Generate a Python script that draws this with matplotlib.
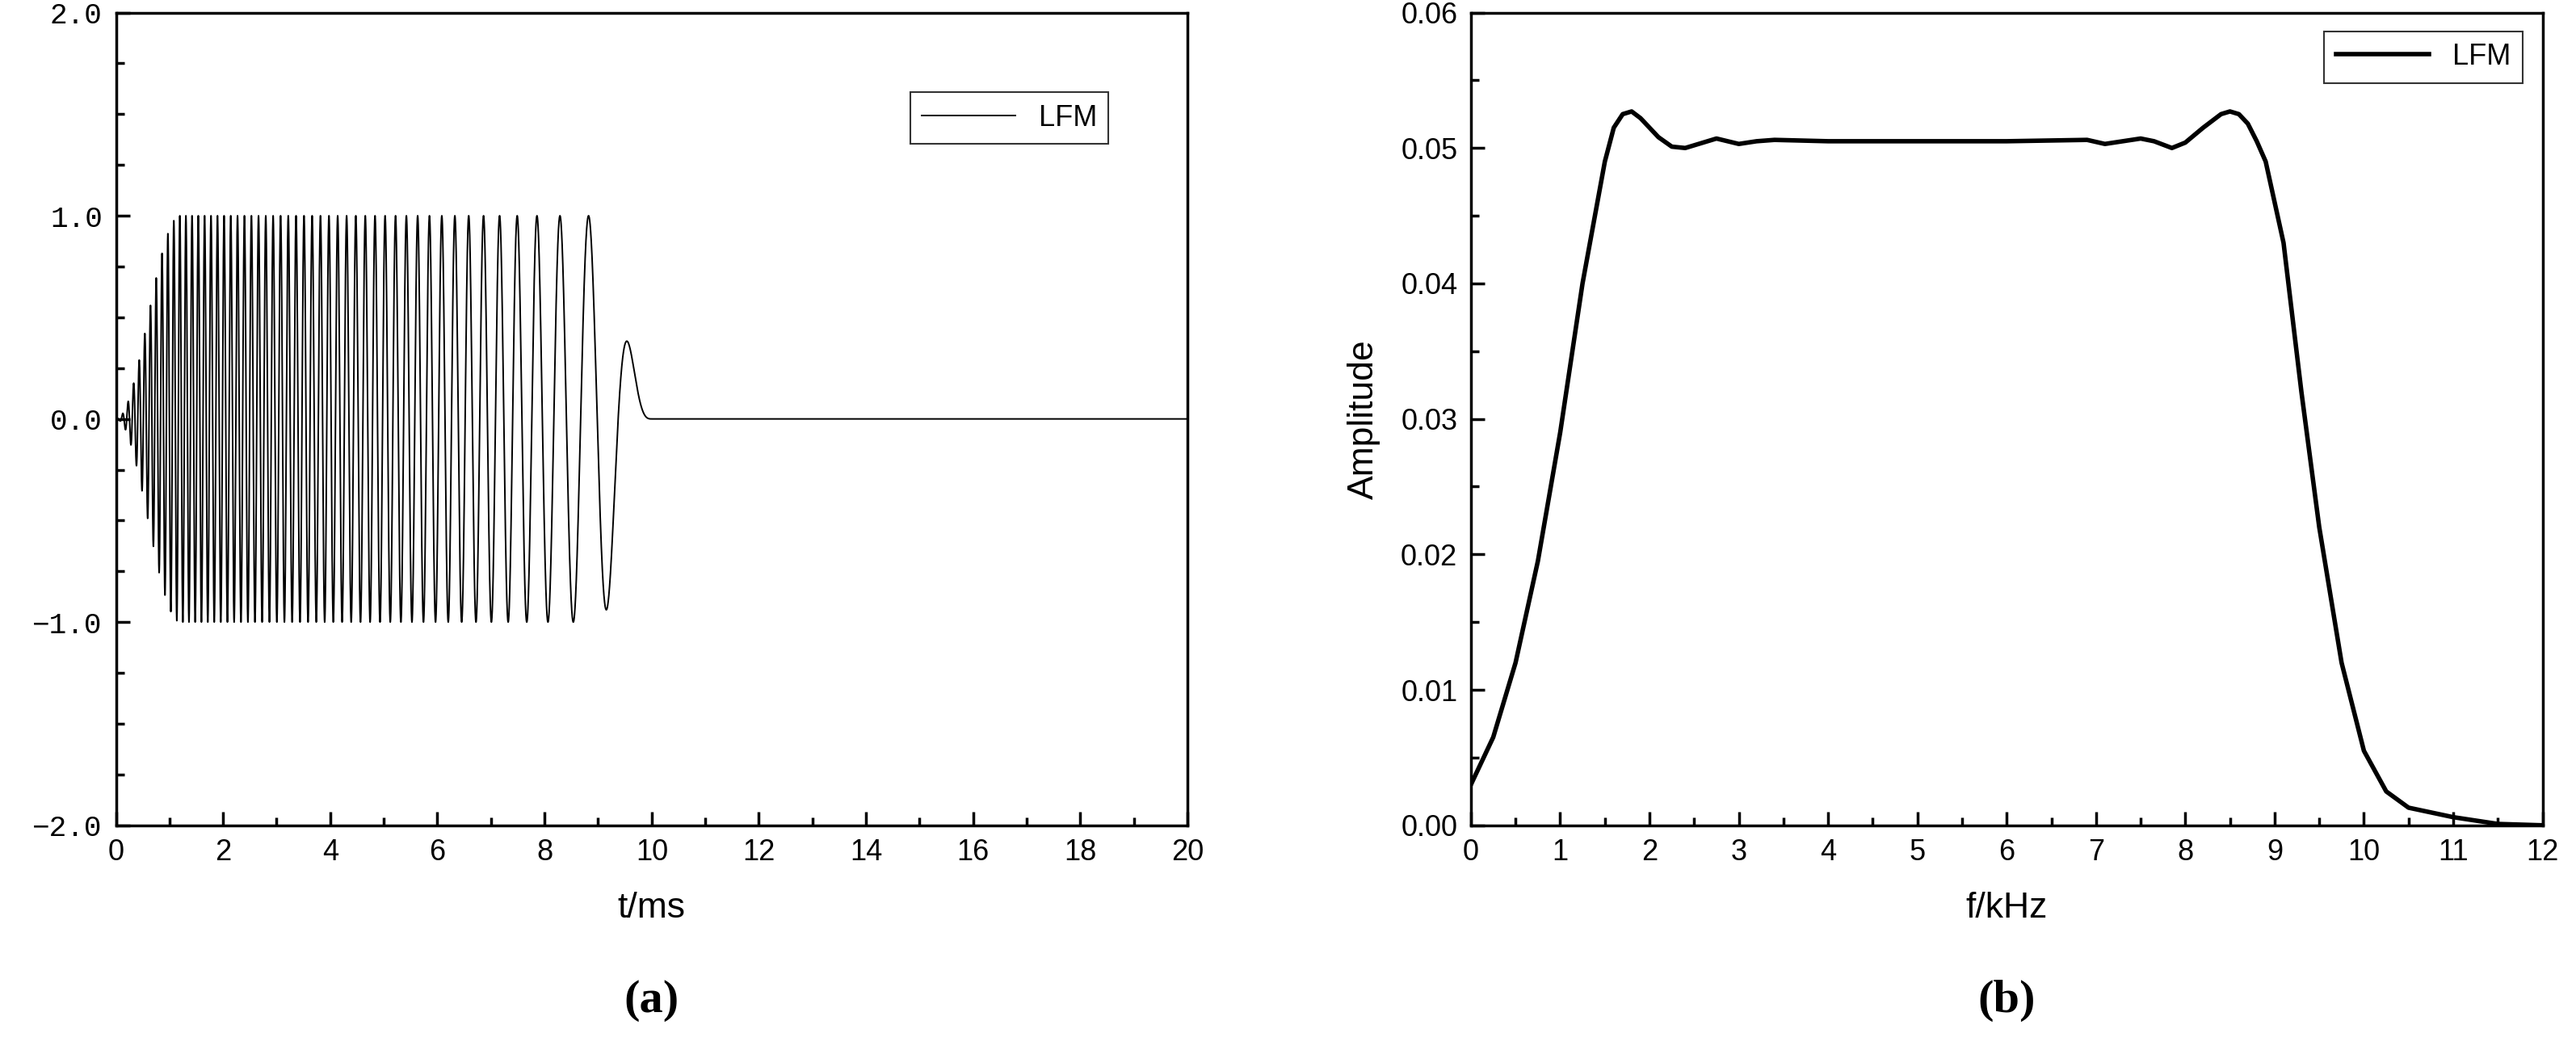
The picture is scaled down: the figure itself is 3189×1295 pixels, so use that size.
import numpy as np
import matplotlib
matplotlib.use("Agg")
import matplotlib.pyplot as plt
from matplotlib.ticker import MultipleLocator

# (a) LFM pulse parameters
f_start_khz = 10.0      # instantaneous frequency at t=0
f_end_khz = 0.5         # at end of pulse
pulse_ms = 10.0
rise_ms = 1.2
fall_ms = 1.0
t_max = 20.0

# (b) spectrum
freq_khz = [0, 0.25, 0.5, 0.75, 1.0, 1.25, 1.5, 1.6, 1.7, 1.8, 1.9, 2.1, 2.25, 2.4, 2.55,
            2.75, 3.0, 3.2, 3.4, 4, 5, 6, 6.9, 7.1, 7.3, 7.5, 7.65, 7.85, 8.0, 8.2, 8.4,
            8.5, 8.6, 8.7, 8.8, 8.9, 9.1, 9.3, 9.5, 9.75, 10.0, 10.25, 10.5, 11, 11.5, 12]
amplitude = [0.003, 0.0065, 0.012, 0.0195, 0.029, 0.040, 0.049, 0.0515, 0.0525, 0.0527,
             0.0522, 0.0508, 0.0501, 0.0500, 0.0503, 0.0507, 0.0503, 0.0505, 0.0506,
             0.0505, 0.0505, 0.0505, 0.0506, 0.0503, 0.0505, 0.0507, 0.0505, 0.0500,
             0.0504, 0.0515, 0.0525, 0.0527, 0.0525, 0.0518, 0.0505, 0.049, 0.043,
             0.032, 0.022, 0.012, 0.0055, 0.0025, 0.0013, 0.0006, 0.0001, 0.0]

t = np.linspace(0, t_max, 40001)
k = (f_end_khz - f_start_khz) / pulse_ms
phase = 2 * np.pi * (f_start_khz * t + 0.5 * k * t ** 2)
env = np.clip(t / rise_ms, 0, 1) * np.clip((pulse_ms - t) / fall_ms, 0, 1)
env = np.sin(0.5 * np.pi * env) ** 2
sig = np.where(t <= pulse_ms, env * np.sin(phase), 0.0)

fig = plt.figure(figsize=(31.89, 12.95), dpi=100)
ax1 = fig.add_axes([0.045, 0.082, 0.416, 0.884])
ax2 = fig.add_axes([0.571, 0.082, 0.416, 0.884])
fig.subplots_adjust()
# place axes to match reference bottoms (leave room for labels)
ax1.set_position([0.045, 0.211, 0.416, 0.777])
ax2.set_position([0.571, 0.211, 0.416, 0.777])

ax1.plot(t, sig, color="black", lw=1.4, label="LFM")
ax1.set_xlim(0, 20)
ax1.set_ylim(-2, 2)
ax1.xaxis.set_major_locator(MultipleLocator(2))
ax1.xaxis.set_minor_locator(MultipleLocator(1))
ax1.yaxis.set_major_locator(MultipleLocator(1))
ax1.yaxis.set_minor_locator(MultipleLocator(0.25))
ax1.set_yticklabels([])
ax1.set_yticks([-2, -1, 0, 1, 2])
ax1.set_yticklabels(["\u22122.0", "\u22121.0", "0.0", "1.0", "2.0"], family="Liberation Mono")
ax1.set_xlabel("t/ms", fontsize=32, family="Liberation Sans", labelpad=22)
ax1.text(0.5, -0.19, "(a)", transform=ax1.transAxes, ha="center", va="top",
         fontsize=42, family="Liberation Serif", fontweight="bold")
leg1 = ax1.legend(loc="upper right", bbox_to_anchor=(0.94, 0.92), fontsize=26,
                  fancybox=False, edgecolor="black", handlelength=3.2,
                  prop={"family": "Liberation Sans", "size": 26})
leg1.get_frame().set_linewidth(1.5)

ax2.plot(freq_khz, amplitude, color="black", lw=4, label="LFM")
ax2.set_xlim(0, 12)
ax2.set_ylim(0, 0.06)
ax2.xaxis.set_major_locator(MultipleLocator(1))
ax2.xaxis.set_minor_locator(MultipleLocator(0.5))
ax2.yaxis.set_major_locator(MultipleLocator(0.01))
ax2.yaxis.set_minor_locator(MultipleLocator(0.005))
ax2.yaxis.set_major_formatter(matplotlib.ticker.FormatStrFormatter("%.2f"))
ax2.set_xlabel("f/kHz", fontsize=32, family="Liberation Sans", labelpad=22)
ax2.set_ylabel("Amplitude", fontsize=32, family="Liberation Sans", labelpad=18)
ax2.text(0.5, -0.19, "(b)", transform=ax2.transAxes, ha="center", va="top",
         fontsize=42, family="Liberation Serif", fontweight="bold")
leg2 = ax2.legend(loc="upper right", bbox_to_anchor=(0.995, 0.995),
                  fancybox=False, edgecolor="black", handlelength=3.2,
                  prop={"family": "Liberation Sans", "size": 26})
leg2.get_frame().set_linewidth(1.5)

for ax in (ax1, ax2):
    for s in ax.spines.values():
        s.set_linewidth(2.5)
    ax.tick_params(which="major", direction="in", length=12, width=2.5, labelsize=26,
                   pad=12)
    ax.tick_params(which="minor", direction="in", length=7, width=2.5)
    ax.tick_params(top=False, right=False)
    for lab in ax.get_xticklabels():
        lab.set_family("Liberation Sans")
for lab in ax2.get_yticklabels():
    lab.set_family("Liberation Sans")

fig.savefig("out.png", dpi=100)
